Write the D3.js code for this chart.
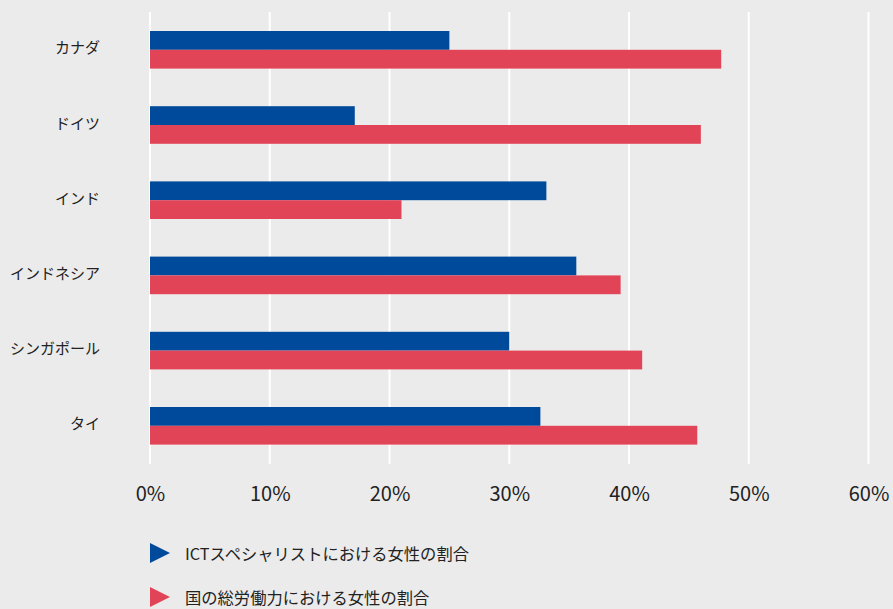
<!DOCTYPE html>
<html>
<head>
<meta charset="utf-8">
<script src="https://cdn.jsdelivr.net/npm/d3@7"></script>
<style>
  html, body { margin: 0; padding: 0; background: #ebebeb; }
  svg { display: block; font-family: "Noto Sans CJK JP", "Noto Sans", sans-serif; }
</style>
</head>
<body>
<svg id="chart" width="893" height="609"></svg>
<script>
// Share of women: ICT specialists vs. total labour force, by country
const countries = ["カナダ", "ドイツ", "インド", "インドネシア", "シンガポール", "タイ"];
const ictShare = [25.0, 17.1, 33.1, 35.6, 30.0, 32.6];
const laborShare = [47.7, 46.0, 21.0, 39.3, 41.1, 45.7];
const seriesNames = ["ICTスペシャリストにおける女性の割合", "国の総労働力における女性の割合"];
const seriesColors = ["#004a9b", "#e24457"];
const xTicks = [0, 10, 20, 30, 40, 50, 60];

const svg = d3.select("#chart");

const x = d3.scaleLinear().domain([0, 60]).range([150, 868.5]);
const y = d3.scaleBand().domain(countries).range([12.2, 463.4])
  .paddingInner(0.5).paddingOuter(0.25);
const sub = d3.scaleBand().domain([0, 1]).range([0, y.bandwidth()]);

// vertical grid lines
svg.append("g").selectAll("line").data(xTicks).join("line")
  .attr("x1", d => x(d)).attr("x2", d => x(d))
  .attr("y1", 12).attr("y2", 464)
  .attr("stroke", "#ffffff").attr("stroke-width", 2);

// bars
const rows = countries.map((c, i) => ({ c, vals: [ictShare[i], laborShare[i]] }));
const grp = svg.append("g").selectAll("g").data(rows).join("g")
  .attr("transform", d => `translate(0,${y(d.c)})`);
grp.selectAll("rect").data(d => d.vals.map((v, k) => ({ v, k }))).join("rect")
  .attr("x", x(0))
  .attr("y", d => sub(d.k))
  .attr("width", d => x(d.v) - x(0))
  .attr("height", sub.bandwidth())
  .attr("fill", d => seriesColors[d.k]);

// category labels
svg.append("g").selectAll("text").data(countries).join("text")
  .attr("x", 100)
  .attr("y", d => y(d) + y.bandwidth() / 2 - 3)
  .attr("text-anchor", "end")
  .attr("dominant-baseline", "central")
  .attr("font-size", 15)
  .attr("fill", "#222")
  .text(d => d);

// x axis labels
const xAxis = d3.axisBottom(x).tickValues(xTicks).tickSize(0).tickPadding(0)
  .tickFormat(d => d + "%");
const ax = svg.append("g").attr("transform", "translate(0,487)").call(xAxis);
ax.select(".domain").remove();
ax.selectAll("text").attr("font-size", 20).attr("fill", "#222")
  .attr("font-family", "'Noto Sans CJK JP', 'Noto Sans', sans-serif");

// legend
const leg = svg.append("g").selectAll("g").data(seriesNames).join("g")
  .attr("transform", (d, i) => `translate(150,${553 + i * 44})`);
leg.append("path")
  .attr("d", "M0,-10 L20,0 L0,10 Z")
  .attr("fill", (d, i) => seriesColors[i]);
leg.append("text")
  .attr("x", 35).attr("y", 0)
  .attr("dominant-baseline", "central")
  .attr("font-size", 16.3)
  .attr("fill", "#222")
  .text(d => d);
</script>
</body>
</html>
